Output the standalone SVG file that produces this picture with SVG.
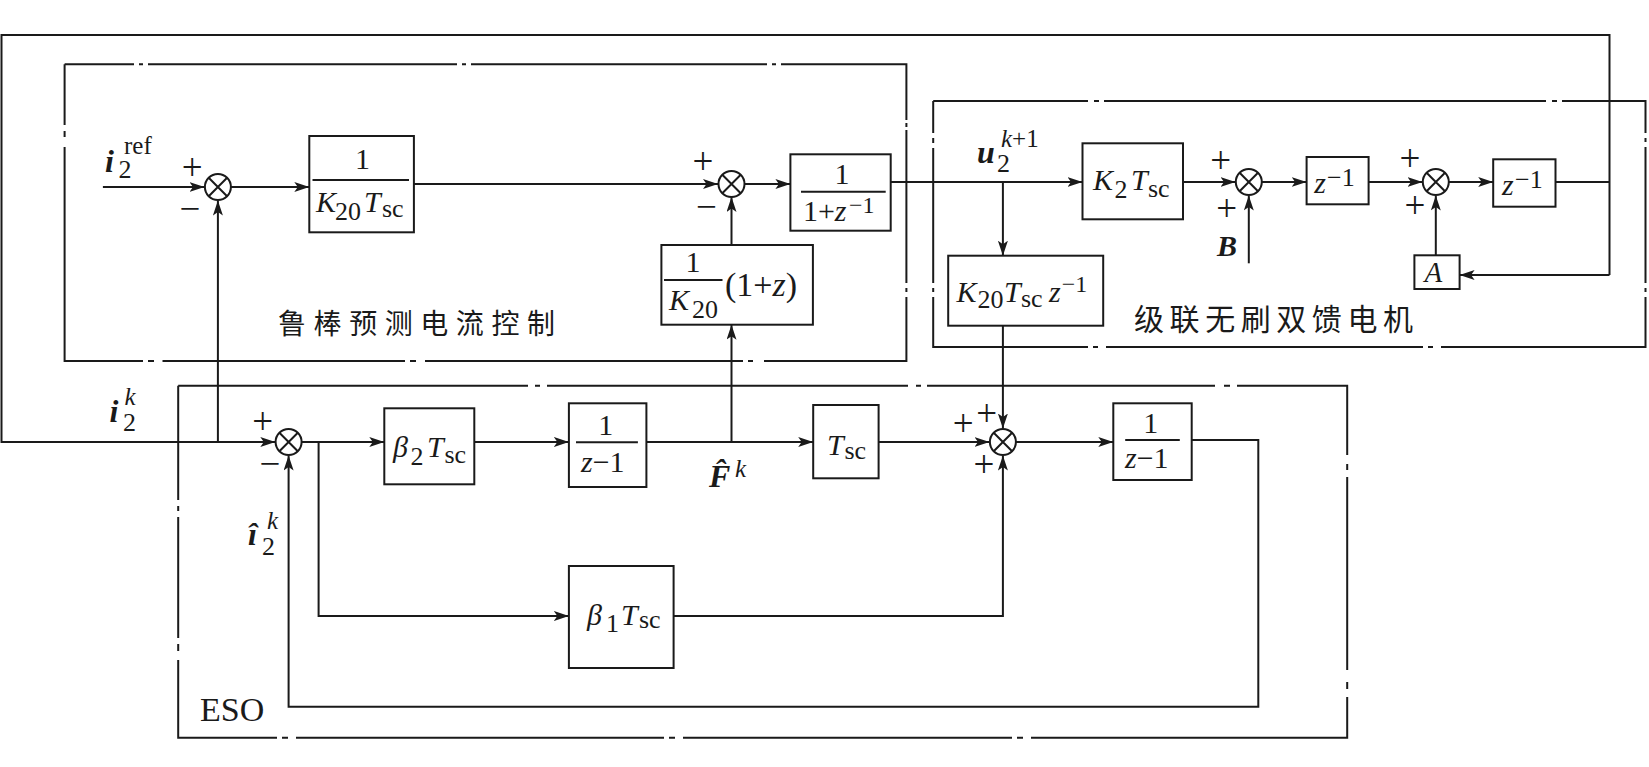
<svg xmlns="http://www.w3.org/2000/svg" width="1649" height="767" viewBox="0 0 1649 767">
<style>
.ln{fill:none;stroke:#1a1a1a;stroke-width:2}
.bx{fill:none;stroke:#1a1a1a;stroke-width:2}
.fr{fill:none;stroke:#1a1a1a;stroke-width:2}
.t{font-family:'Liberation Serif','Times New Roman',serif;fill:#1a1a1a;font-size:30px}
.it{font-style:italic}
.bi{font-style:italic;font-weight:bold}
.s{font-size:26px}
.sg{font-family:'Liberation Serif','Times New Roman',serif;fill:#1a1a1a;font-size:37px;text-anchor:middle}
.cn{font-family:'Noto Sans CJK SC','Noto Sans CJK JP',sans-serif;fill:#1a1a1a;font-size:28px}
</style>
<defs>
<marker id="ar" markerUnits="userSpaceOnUse" markerWidth="16" markerHeight="12" refX="15" refY="5" orient="auto">
<path d="M0,0 L15,5 L0,10 L3.5,5 z" fill="#1a1a1a"/>
</marker>
<g id="sumx"><circle r="13" fill="#fff" stroke="#1a1a1a" stroke-width="2"/><path d="M-9.2,-9.2 L9.2,9.2 M-9.2,9.2 L9.2,-9.2" stroke="#1a1a1a" stroke-width="2"/></g>
</defs>
<rect width="1649" height="767" fill="#fff"/>

<!-- dash-dot frames -->
<g id="frame-robust">
<path class="fr" d="M64.6,64.3 H134 M139,64.3 H143 M148,64.3 H157 M157,64.3 H457 M462,64.3 H466 M471,64.3 H480 M480,64.3 H767 M772,64.3 H776 M781,64.3 H906.4 V120 M906.4,123 V127 M906.4,130 V283 M906.4,288 V292 M906.4,297 V361 H764 M753,361 H748 M743,361 H735 M735,361 H425 M416,361 H410 M405,361 H400 M400,361 H162.5 M154,361 H148 M143,361 H137.5 M137.5,361 H64.6 V147 M64.6,137 V131 M64.6,125 V64.3"/>
<text class="cn" x="278" y="334" textLength="277" lengthAdjust="spacing">鲁棒预测电流控制</text>
</g>
<g id="frame-motor">
<path class="fr" d="M933.2,101 H1088 M1094,101 H1099 M1104,101 H1546 M1552,101 H1557 M1562,101 H1645.5 V133 M1645.5,138 V142 M1645.5,147 V283 M1645.5,288 V292 M1645.5,297 V347 H1441 M1433,347 H1428 M1423,347 H1106 M1098,347 H1093 M1088,347 H933.2 V297 M933.2,292 V288 M933.2,283 V148 M933.2,143 V138 M933.2,133 V101"/>
<text class="cn" x="1134" y="330" textLength="279" lengthAdjust="spacing" style="font-size:30px">级联无刷双馈电机</text>
</g>
<g id="frame-eso">
<path class="fr" d="M178.2,385.7 H528 M535,385.7 H540 M547,385.7 H908 M916,385.7 H921 M927,385.7 H1215 M1224,385.7 H1230 M1237,385.7 H1347.2 V455 M1347.2,464 V470 M1347.2,477 V670 M1347.2,682 V689 M1347.2,697 V737.7 H1031 M1023,737.7 H1017 M1012,737.7 H683 M675,737.7 H669 M664,737.7 H296 M288,737.7 H282 M277,737.7 H178.2 V660 M178.2,651 V644 M178.2,638 V517 M178.2,511 V506 M178.2,500 V385.7"/>
<text class="t" x="200" y="720.7" style="font-size:34px">ESO</text>
</g>

<!-- connectors -->
<g id="connectors">
<path class="ln" d="M102.9,187 H204.5" marker-end="url(#ar)"/>
<path class="ln" d="M230.9,187 H309.3" marker-end="url(#ar)"/>
<path class="ln" d="M413.9,184 H718" marker-end="url(#ar)"/>
<path class="ln" d="M744.5,184 H790.4" marker-end="url(#ar)"/>
<path class="ln" d="M731.5,245 V197" marker-end="url(#ar)"/>
<path class="ln" d="M731.5,442 V324.7" marker-end="url(#ar)"/>
<path class="ln" d="M890.7,182 H1082.5" marker-end="url(#ar)"/>
<path class="ln" d="M1002.9,182 V255.7" marker-end="url(#ar)"/>
<path class="ln" d="M1183,182 H1235.5" marker-end="url(#ar)"/>
<path class="ln" d="M1248.8,263.3 V195.5" marker-end="url(#ar)"/>
<path class="ln" d="M1261.8,182 H1306.6" marker-end="url(#ar)"/>
<path class="ln" d="M1368.6,182 H1422.5" marker-end="url(#ar)"/>
<path class="ln" d="M1435.8,255.3 V195.5" marker-end="url(#ar)"/>
<path class="ln" d="M1448.8,182 H1493.2" marker-end="url(#ar)"/>
<path class="ln" d="M1555.5,182 H1609.5"/>
<path class="ln" d="M1609.5,275 H1459.6" marker-end="url(#ar)"/>
<path class="ln" d="M1609.5,275 V35 H1.5 V442 H275.3" marker-end="url(#ar)"/>
<path class="ln" d="M217.9,442 V200.5" marker-end="url(#ar)"/>
<path class="ln" d="M301.6,442 H384.3" marker-end="url(#ar)"/>
<path class="ln" d="M318.6,442 V616 H568.9" marker-end="url(#ar)"/>
<path class="ln" d="M474.3,442 H568.9" marker-end="url(#ar)"/>
<path class="ln" d="M646.4,442 H813.2" marker-end="url(#ar)"/>
<path class="ln" d="M878.6,442 H989.5" marker-end="url(#ar)"/>
<path class="ln" d="M1002.9,325.7 V428.5" marker-end="url(#ar)"/>
<path class="ln" d="M673.6,616 H1002.9 V455.5" marker-end="url(#ar)"/>
<path class="ln" d="M1015.9,442 H1113.3" marker-end="url(#ar)"/>
<path class="ln" d="M1191.7,440 H1258.3 V706.7 H288.6 V455.5" marker-end="url(#ar)"/>
</g>

<!-- summing junctions -->
<g id="sum1"><use href="#sumx" x="217.9" y="187"/><text class="sg" x="192.3" y="180">+</text><text class="sg" x="190" y="221">−</text></g>
<g id="sum2"><use href="#sumx" x="731.5" y="184"/><text class="sg" x="702.9" y="174">+</text><text class="sg" x="706.4" y="219">−</text></g>
<g id="sum3"><use href="#sumx" x="1248.8" y="182"/><text class="sg" x="1220.8" y="172.5">+</text><text class="sg" x="1226.7" y="221">+</text></g>
<g id="sum4"><use href="#sumx" x="1435.8" y="182"/><text class="sg" x="1409.9" y="171">+</text><text class="sg" x="1415" y="217.5">+</text></g>
<g id="sum5"><use href="#sumx" x="288.6" y="442"/><text class="sg" x="262.7" y="434">+</text><text class="sg" x="270" y="476">−</text></g>
<g id="sum6"><use href="#sumx" x="1002.9" y="442"/><text class="sg" x="963.3" y="436">+</text><text class="sg" x="986.7" y="426">+</text><text class="sg" x="984" y="477">+</text></g>

<!-- blocks -->
<g id="b-k20tsc">
<rect class="bx" x="309.3" y="136" width="104.6" height="96.3"/>
<text class="t" x="362.5" y="169" text-anchor="middle">1</text>
<path class="ln" d="M312.5,180 H409"/>
<text class="t it" x="316" y="211.7">K</text><text class="t s" x="335" y="220">20</text><text class="t it" x="364" y="211.7">T</text><text class="t s" x="382" y="216.7">sc</text>
</g>
<g id="b-1pz">
<rect class="bx" x="790.4" y="154.3" width="100.3" height="76.4"/>
<text class="t" x="842" y="184" text-anchor="middle">1</text>
<path class="ln" d="M801,191.7 H885.7"/>
<text class="t" x="802.9" y="221">1+<tspan class="it">z</tspan></text><text class="t" x="849" y="213.3" style="font-size:24px">−1</text>
</g>
<g id="b-k20-1pz">
<rect class="bx" x="661.4" y="245" width="151.5" height="79.7"/>
<text class="t" x="692.9" y="271.7" text-anchor="middle">1</text>
<path class="ln" d="M664,280 H722.5"/>
<text class="t it" x="669" y="310">K</text><text class="t s" x="692" y="318.3">20</text>
<text class="t" x="725" y="296" style="font-size:34px">(1+<tspan class="it">z</tspan>)</text>
</g>
<g id="b-k20tscz">
<rect class="bx" x="948.2" y="255.7" width="155" height="70"/>
<text class="t it" x="956.5" y="301.7">K</text><text class="t s" x="977.5" y="308.3">20</text><text class="t it" x="1004" y="301.7">T</text><text class="t s" x="1021" y="306.7">sc</text><text class="t it" x="1049" y="301.7">z</text><text class="t" x="1061.8" y="291.7" style="font-size:24px">−1</text>
</g>
<g id="b-k2tsc">
<rect class="bx" x="1082.5" y="143.3" width="100.5" height="76"/>
<text class="t it" x="1093" y="190">K</text><text class="t s" x="1114.5" y="198.3">2</text><text class="t it" x="1131" y="190">T</text><text class="t s" x="1148" y="196.7">sc</text>
</g>
<g id="b-zinv1">
<rect class="bx" x="1306.6" y="157" width="62" height="47.3"/>
<text class="t it" x="1314.3" y="193.3">z</text><text class="t" x="1327" y="185.7" style="font-size:26px">−1</text>
</g>
<g id="b-zinv2">
<rect class="bx" x="1493.2" y="159.3" width="62.3" height="47.4"/>
<text class="t it" x="1502" y="195">z</text><text class="t" x="1515" y="187.5" style="font-size:26px">−1</text>
</g>
<g id="b-A">
<rect class="bx" x="1414.4" y="255.3" width="45.2" height="33.7"/>
<text class="t it" x="1424.5" y="282" style="font-size:29px">A</text>
</g>
<g id="b-beta2">
<rect class="bx" x="384.3" y="408.3" width="90" height="76"/>
<text class="t it" x="393" y="456.7">β</text><text class="t s" x="410.5" y="465">2</text><text class="t it" x="427" y="456.7">T</text><text class="t s" x="444.5" y="463.3">sc</text>
</g>
<g id="b-int1">
<rect class="bx" x="568.9" y="403.3" width="77.5" height="83.7"/>
<text class="t" x="605.7" y="435" text-anchor="middle">1</text>
<path class="ln" d="M576,442.3 H637.9"/>
<text class="t" x="581" y="471.7"><tspan class="it">z</tspan>−1</text>
</g>
<g id="b-tsc">
<rect class="bx" x="813.2" y="405" width="65.4" height="73.3"/>
<text class="t it" x="827" y="455">T</text><text class="t s" x="844.5" y="459.3">sc</text>
</g>
<g id="b-beta1">
<rect class="bx" x="568.9" y="566" width="104.7" height="102"/>
<text class="t it" x="586.9" y="625">β</text><text class="t s" x="606" y="632">1</text><text class="t it" x="621" y="625">T</text><text class="t s" x="639" y="628.3">sc</text>
</g>
<g id="b-int2">
<rect class="bx" x="1113.3" y="403.3" width="78.4" height="76.7"/>
<text class="t" x="1150.8" y="433.3" text-anchor="middle">1</text>
<path class="ln" d="M1125.2,440 H1179.8"/>
<text class="t" x="1125" y="468.3"><tspan class="it">z</tspan>−1</text>
</g>

<!-- signal labels -->
<g id="labels">
<text class="t bi" x="105" y="171.7" style="font-size:32px">i</text><text class="t s" x="118.5" y="178.3">2</text><text class="t" x="124" y="154.3" style="font-size:25px">ref</text>
<text class="t bi" x="977" y="163" style="font-size:32px">u</text><text class="t s" x="997" y="171.7">2</text><text class="t" x="1001" y="146.7" style="font-size:25px"><tspan class="it">k</tspan>+1</text>
<text class="t bi" x="109.5" y="421.7" style="font-size:32px">i</text><text class="t s" x="123" y="431">2</text><text class="t it" x="124.5" y="405" style="font-size:25px">k</text>
<text class="t bi" x="248" y="545" style="font-size:32px">i&#x302;</text><text class="t s" x="262" y="555">2</text><text class="t it" x="267" y="529" style="font-size:25px">k</text>
<text class="t bi" x="709" y="486.7" style="font-size:32px">F&#x302;</text><text class="t it" x="735" y="476.7" style="font-size:25px">k</text>
<text class="t bi" x="1217" y="256" style="font-size:30px">B</text>
</g>
</svg>
